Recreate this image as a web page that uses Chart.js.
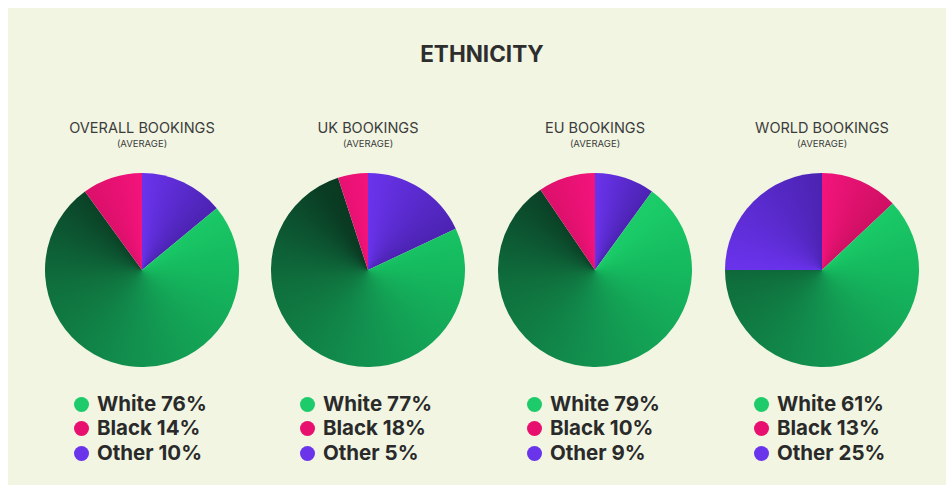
<!DOCTYPE html>
<html>
<head>
<meta charset="utf-8">
<script src="https://cdn.jsdelivr.net/npm/chart.js@4/dist/chart.umd.min.js"></script>
<style>
  html, body { margin: 0; padding: 0; background: #ffffff; }
  body { width: 952px; height: 491px; position: relative; overflow: hidden; font-family: Inter, "Liberation Sans", sans-serif; }
  #panel { position: absolute; left: 8px; top: 8px; width: 938px; height: 477px; background: #f1f5e2; }
  #title { position: absolute; left: 12px; width: 940px; top: 40px; text-align: center; font-size: 22.5px; font-weight: 700; color: #2e2e2e; letter-spacing: 0px; }
  .head { position: absolute; width: 220px; text-align: center; color: #3c3c3c; }
  .head .t { font-size: 14.5px; font-weight: 400; line-height: 18px; }
  .head .s { font-size: 9.5px; font-weight: 400; line-height: 14px; margin-top: 0px; }
  canvas.pie { position: absolute; }
  .legend { position: absolute; top: 391.5px; color: #2a2a2a; font-weight: 700; font-size: 20.5px; }
  .legend div { position: relative; height: 24.5px; line-height: 24.5px; padding-left: 16px; white-space: nowrap; }
  .legend .dot { position: absolute; left: -7px; top: 5px; width: 15px; height: 15px; border-radius: 50%; }
</style>
</head>
<body>
<div id="panel"></div>
<div id="title">ETHNICITY</div>
<div id="holder"></div>
<script>
// Column headings
const groups = ["OVERALL BOOKINGS", "UK BOOKINGS", "EU BOOKINGS", "WORLD BOOKINGS"];
const subLabel = "(AVERAGE)";
const categories = ["White", "Black", "Other"];

// Percentages printed in the legends
const legendWhite = [76, 77, 79, 61];
const legendBlack = [14, 18, 10, 13];
const legendOther = [10, 5, 9, 25];

// Slice sizes as drawn in the pies
const pieWhite  = [76, 77, 80.5, 62];
const piePurple = [14, 18, 10, 25];
const piePink   = [10, 5, 9.5, 13];

// Clockwise order of slices from 12 o'clock for each pie
const sliceOrder = [
  ["purple", "white", "pink"],
  ["purple", "white", "pink"],
  ["purple", "white", "pink"],
  ["pink", "white", "purple"]
];

const centersX = [142, 368, 595, 822];
const centerY = 270;
const R = 97;
const flat = { white: "#139a52", pink: "#e5106c", purple: "#5a2bd6" };
const dotColors = ["#1ecb6b", "#e8106e", "#6a34ea"];

function valueOf(kind, i) {
  if (kind === "white") return pieWhite[i];
  if (kind === "purple") return piePurple[i];
  return piePink[i];
}

function makeBg(i) {
  return function (ctx) {
    const chart = ctx.chart;
    const area = chart.chartArea;
    const kind = sliceOrder[i][ctx.dataIndex];
    if (!area || ctx.type !== "data") return flat[kind];
    const c = chart.ctx;
    const cx = (area.left + area.right) / 2;
    const cy = (area.top + area.bottom) / 2;
    const data = chart.data.datasets[0].data;
    const total = data.reduce((a, b) => a + b, 0);
    let before = 0;
    for (let k = 0; k < ctx.dataIndex; k++) before += data[k];
    const f0 = before / total;
    const f1 = (before + data[ctx.dataIndex]) / total;
    if (kind === "white") {
      const g = c.createConicGradient(-Math.PI / 2, cx, cy);
      g.addColorStop(0.0, "#1fd36e");
      g.addColorStop(0.12, "#1acb68");
      g.addColorStop(0.25, "#15b95e");
      g.addColorStop(0.5, "#12924f");
      g.addColorStop(0.72, "#0f703d");
      g.addColorStop(0.84, "#0c5230");
      g.addColorStop(0.92, "#0a3c23");
      g.addColorStop(1.0, "#09361f");
      return g;
    }
    if (kind === "purple") {
      const g = c.createConicGradient(-Math.PI / 2 + f0 * 2 * Math.PI, cx, cy);
      g.addColorStop(0, "#6a33ec");
      g.addColorStop(Math.max(0.01, f1 - f0), "#4b23b2");
      g.addColorStop(1, "#6a33ec");
      return g;
    }
    const g = c.createConicGradient(-Math.PI / 2, cx, cy);
    g.addColorStop(0, "#f2147b");
    g.addColorStop(0.14, "#cc0f61");
    g.addColorStop(0.86, "#d20f64");
    g.addColorStop(0.97, "#ec1276");
    g.addColorStop(1, "#f2147b");
    return g;
  };
}

const holder = document.getElementById("holder");
groups.forEach((name, i) => {
  const head = document.createElement("div");
  head.className = "head";
  head.style.left = (centersX[i] - 110) + "px";
  head.style.top = "119px";
  head.innerHTML = '<div class="t"></div><div class="s"></div>';
  head.querySelector(".t").textContent = name;
  head.querySelector(".s").textContent = subLabel;
  holder.appendChild(head);

  const cv = document.createElement("canvas");
  cv.className = "pie";
  cv.width = 2 * R; cv.height = 2 * R;
  cv.style.left = (centersX[i] - R) + "px";
  cv.style.top = (centerY - R) + "px";
  holder.appendChild(cv);

  new Chart(cv, {
    type: "pie",
    data: {
      labels: sliceOrder[i],
      datasets: [{
        data: sliceOrder[i].map(k => valueOf(k, i)),
        backgroundColor: makeBg(i),
        borderWidth: 0,
        hoverOffset: 0
      }]
    },
    options: {
      responsive: false,
      animation: false,
      layout: { padding: 0 },
      plugins: { legend: { display: false }, tooltip: { enabled: false } }
    }
  });

  const lg = document.createElement("div");
  lg.className = "legend";
  lg.style.left = (centersX[i] - 61) + "px";
  const vals = [legendWhite[i], legendBlack[i], legendOther[i]];
  categories.forEach((cat, k) => {
    const row = document.createElement("div");
    const dot = document.createElement("span");
    dot.className = "dot";
    dot.style.background = dotColors[k];
    row.appendChild(dot);
    row.appendChild(document.createTextNode(cat + " " + vals[k] + "%"));
    lg.appendChild(row);
  });
  holder.appendChild(lg);
});
</script>
</body>
</html>
